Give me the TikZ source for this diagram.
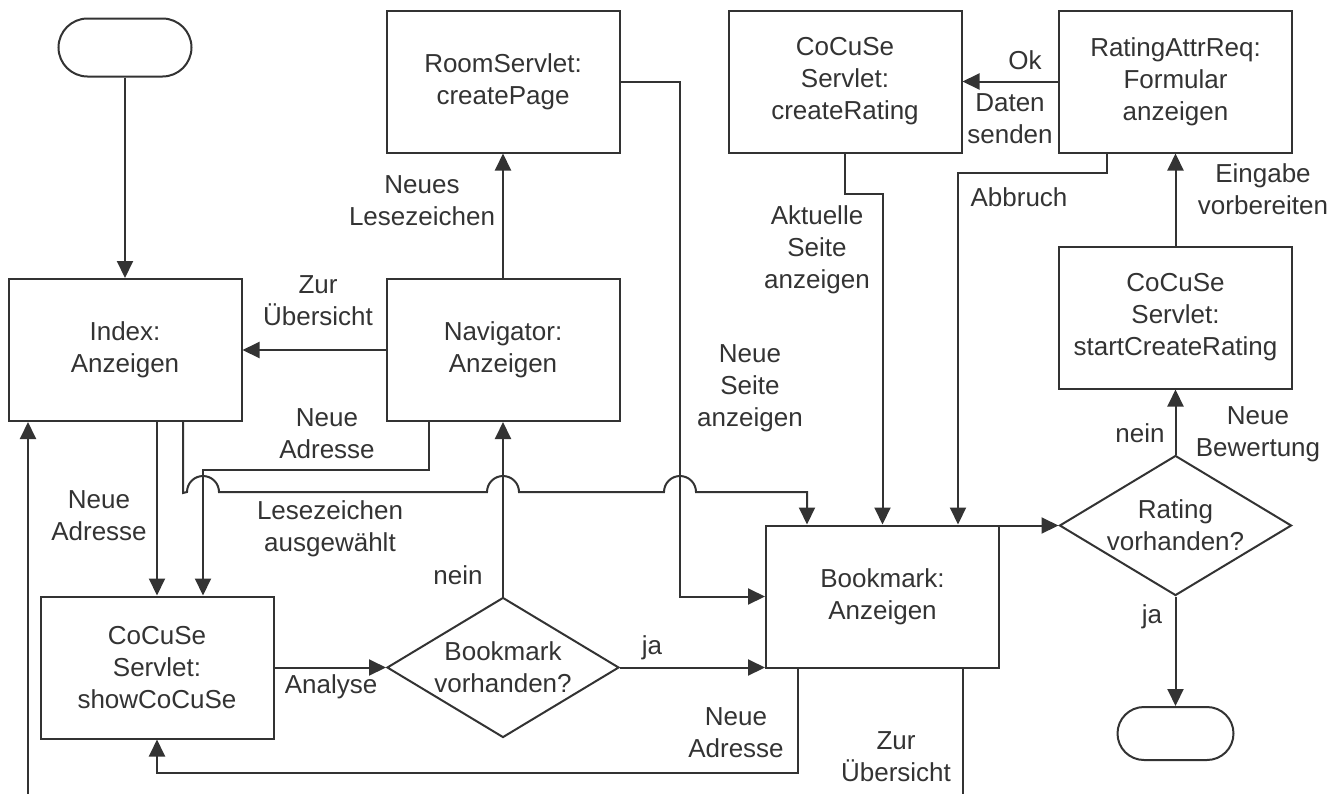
\documentclass[tikz,border=0pt]{standalone}
\usepackage{fontspec}
\setmainfont{Liberation Sans}
\usepackage{tikz}
\usetikzlibrary{arrows.meta,shapes.geometric,positioning}
\definecolor{ink}{HTML}{333333}

\begin{document}
\begin{tikzpicture}[x=1pt, y=-1pt, font=\fontsize{26}{32}\selectfont, line width=2pt, draw=ink, text=ink, main/.style = {draw, rectangle, minimum width=233pt, minimum height=142pt, align=center}, term/.style = {draw, rectangle, rounded corners=29pt, minimum width=133pt, minimum height=58pt}, dec/.style = {draw, diamond, shape aspect=1.67, minimum width=232pt, minimum height=140pt, inner sep=0pt, align=center}, lbl/.style = {align=center, inner sep=0pt}, arr/.style = {-{Triangle[length=17pt, width=16pt]}}]
                \useasboundingbox (0,0) rectangle (1344,793);
                \node[main] (index) at (125,350) {Index:\\Anzeigen};
                \node[term, node distance=302.5pt] (start) [above of=index] {};
                \node[main, node distance=378pt] (nav) [right of=index] {Navigator:\\Anzeigen};
                \node[main, node distance=268.5pt] (room) [above of=nav] {RoomServlet:\\createPage};
                \node[main, node distance=342pt] (crrate) [right of=room] {CoCuSe\\Servlet:\\createRating};
                \node[main, node distance=330.5pt] (attr) [right of=crrate] {RatingAttrReq:\\Formular\\anzeigen};
                \node[main, node distance=236pt] (startcr) [below of=attr] {CoCuSe\\Servlet:\\startCreateRating};
                \node[dec, node distance=208pt] (rating) [below of=startcr] {Rating\\vorhanden?};
                \node[term, minimum width=116pt, minimum height=53pt, rounded corners=26.5pt, node distance=208pt] (end) [below of=rating] {};
                \node[main] (show) at (157,667.5) {CoCuSe\\Servlet:\\showCoCuSe};
                \node[dec, node distance=346pt] (bmq) [right of=show] {Bookmark\\vorhanden?};
                \node[main] (bm) at (882.5,596.5) {Bookmark:\\Anzeigen};
                \draw[arr] (start) -- (index);
                \draw[arr] (nav) -- (index) node[lbl] at (318,301) {Zur\\Übersicht};
                \draw[arr] (nav) -- (room) node[lbl] at (422,201) {Neues\\Lesezeichen};
                \draw[arr] (show.north |- index.south) -- (show.north) node[lbl] at (99,516) {Neue\\Adresse};
                \draw[arr] ([xshift=-74pt]nav.south) -- ++(0,48) -| ([xshift=46pt]show.north) node[lbl] at (327,434) {Neue\\Adresse};
                \draw[arr] ([xshift=58pt]index.south) -- ++(0,71) -- (187,492) arc (180:0:16pt) -- (487,492) arc (180:0:16pt) -- (664,492) arc (180:0:16pt) -| ([xshift=-75.5pt]bm.north) node[lbl] at (330,529) {Lesezeichen\\ausgewählt};
                \draw[arr] (room.east) -| (680,596.5) -- (bm.west) node[lbl] at (750,388) {Neue\\Seite\\anzeigen};
                \draw[arr] (crrate.south) -- ++(0,40) -| (bm.north) node[lbl] at (817,250) {Aktuelle\\Seite\\anzeigen};
                \draw[arr] ([xshift=-68.5pt]attr.south) -- ++(0,19) -| ([xshift=75.5pt]bm.north) node[lbl] at (1019,197) {Abbruch};
                \draw[arr] (attr) -- (crrate) node[lbl] at (1025,60) {Ok} node[lbl] at (1010,119) {Daten\\senden};
                \draw[arr] (startcr) -- (attr) node[lbl] at (1263,189) {Eingabe\\vorbereiten};
                \draw[arr] (rating) -- (startcr) node[lbl] at (1140,433) {nein} node[lbl] at (1258,434) {Neue\\Bewertung};
                \draw[arr] (rating) -- (end) node[lbl] at (1152,617) {ja};
                \draw[arr] (bm.north east |- rating.west) -- (rating.west);
                \draw[arr] (show) -- (bmq) node[lbl] at (331,687) {Analyse};
                \draw[arr] (bmq) -- (nav) node[lbl] at (458,575) {nein};
                \draw[arr] (bmq.east) -- (bmq.east -| bm.west) node[lbl] at (652,648) {ja};
                \draw[arr] ([xshift=-84.5pt]bm.south) -- ++(0,104) -| (show.south) node[lbl] at (736,733) {Neue\\Adresse};
                \draw[arr] ([xshift=80.5pt]bm.south) -- ++(0,126) -| ([xshift=-97pt]index.south) node[lbl] at (896,757) {Zur\\Übersicht};
            \end{tikzpicture}
\end{document}
